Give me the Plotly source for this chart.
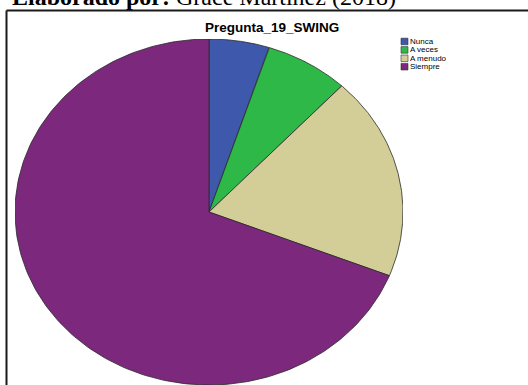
import numpy as np
import plotly.graph_objects as go

# Response shares for "Pregunta_19_SWING"
categories = ["Nunca", "A veces", "A menudo", "Siempre"]
values = [5, 7, 19, 69]
colors = ["#3E58AC", "#2EB848", "#D3CE97", "#7C287D"]

W, H = 528, 385


def px_x(x):
    return x / W


def px_y(y):
    return (H - y) / H


fig = go.Figure()

# Pie slices drawn clockwise from 12 o'clock on a unit circle; the
# unequal axis scaling gives the elliptical look.
total = float(sum(values))
start = 0.0
for cat, val, col in zip(categories, values, colors):
    frac = val / total
    theta = np.linspace(start, start + frac, 200) * 2 * np.pi
    xs = np.concatenate([[0.0], np.sin(theta), [0.0]])
    ys = np.concatenate([[0.0], np.cos(theta), [0.0]])
    fig.add_trace(go.Scatter(
        x=xs, y=ys, mode="lines", fill="toself", fillcolor=col,
        line=dict(color="#2a2a2a", width=0.8), name=cat,
        hoverinfo="name", showlegend=False,
    ))
    start += frac

fig.update_xaxes(range=[-1, 1], domain=[px_x(15), px_x(403)], visible=False,
                 fixedrange=True)
fig.update_yaxes(range=[-1, 1], domain=[px_y(385), px_y(39)], visible=False,
                 fixedrange=True)

shapes = [
    # chart frame (top and left edges)
    dict(type="line", xref="paper", yref="paper", x0=px_x(6.5), x1=1.05,
         y0=px_y(10.5), y1=px_y(10.5), line=dict(color="#1a1a1a", width=2)),
    dict(type="line", xref="paper", yref="paper", x0=px_x(6.5), x1=px_x(6.5),
         y0=px_y(10.5), y1=-0.05, line=dict(color="#1a1a1a", width=2)),
]
annotations = [
    dict(text="<b>Elaborado por:</b> Grace Martínez (2018)", xref="paper",
         yref="paper", x=px_x(10), y=px_y(12), xanchor="left", yanchor="bottom",
         showarrow=False,
         font=dict(family="Liberation Serif", size=24, color="#000000")),
    dict(text="<b>Pregunta_19_SWING</b>", xref="paper", yref="paper",
         x=px_x(272), y=px_y(37), xanchor="center", yanchor="bottom",
         showarrow=False,
         font=dict(family="Liberation Sans", size=13.5, color="#000000")),
]

# Compact legend: swatch + label per category
for i, (cat, col) in enumerate(zip(categories, colors)):
    cy = 41.5 + i * 8.4
    shapes.append(dict(type="rect", xref="paper", yref="paper",
                       x0=px_x(401), x1=px_x(408), y0=px_y(cy + 3.3),
                       y1=px_y(cy - 3.3), fillcolor=col,
                       line=dict(color="#333333", width=0.6)))
    annotations.append(dict(text=cat, xref="paper", yref="paper",
                            x=px_x(408.5), y=px_y(cy), xanchor="left",
                            yanchor="middle", showarrow=False, borderpad=0,
                            font=dict(family="Liberation Sans", size=8,
                                      color="#000000")))

fig.update_layout(
    width=W, height=H,
    margin=dict(l=0, r=0, t=0, b=0),
    paper_bgcolor="white", plot_bgcolor="white",
    shapes=shapes, annotations=annotations,
    showlegend=False,
)

fig.write_html("out.html")
